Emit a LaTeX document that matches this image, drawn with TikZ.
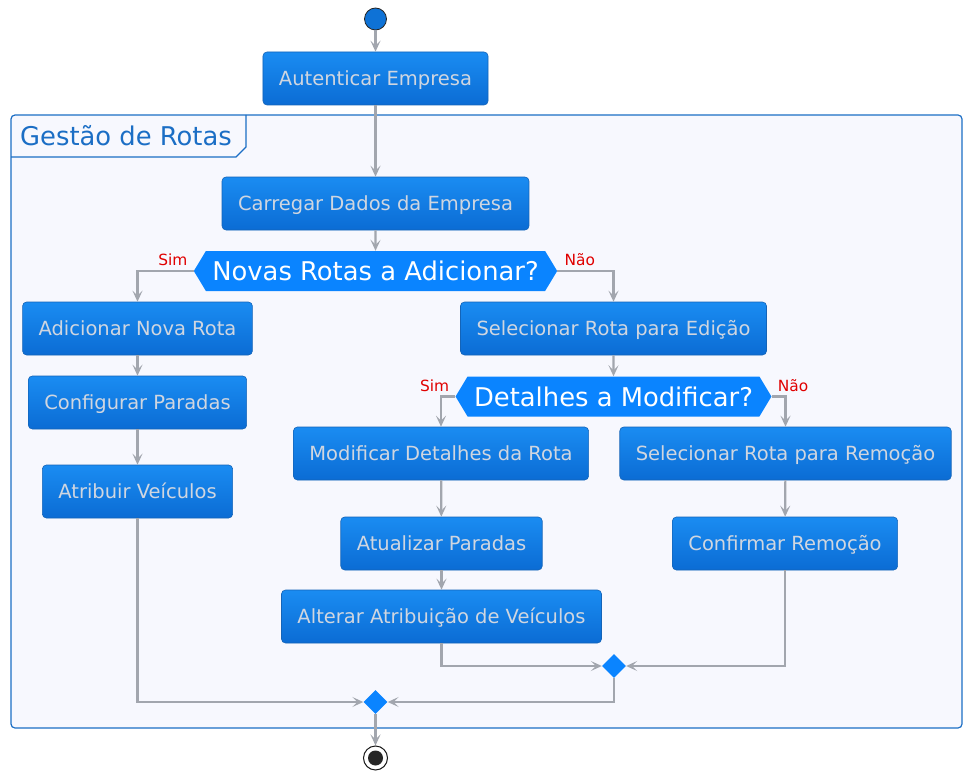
\documentclass[tikz,border=0pt]{standalone}
\usepackage{fontspec}
\setmainfont{DejaVu Sans}
\usepackage{xcolor}
\usepackage{tikz}
\usetikzlibrary{arrows.meta,shapes.geometric,shapes.symbols}
\definecolor{boxtop}{HTML}{1A8CF2}
\definecolor{boxbot}{HTML}{0B6CD4}
\definecolor{boxline}{HTML}{1464B8}
\definecolor{boxtext}{HTML}{D0D6E0}
\definecolor{decfill}{HTML}{0A84FF}
\definecolor{flowline}{HTML}{A2A6AE}
\definecolor{framecol}{HTML}{1B6EC5}
\definecolor{framefill}{HTML}{F7F8FE}
\definecolor{lblred}{HTML}{E00000}
\definecolor{startfill}{HTML}{0E72D6}
\tikzset{
  actbox/.style={rectangle,rounded corners=4pt,top color=boxtop,bottom color=boxbot,
    draw=boxline,line width=0.6pt,minimum height=53pt,inner xsep=16pt,
    text=boxtext,font=\fontsize{19.5}{23}\selectfont,text height=16pt,text depth=2pt},
  decision/.style={signal,signal to=west and east,signal pointer angle=118,fill=decfill,
    text=white,font=\fontsize{25.8}{30}\selectfont,inner xsep=6.5pt,inner ysep=7.5pt,
    text height=22pt,text depth=3pt,minimum height=40pt},
  mergept/.style={diamond,fill=decfill,minimum size=24pt,inner sep=0pt},
  lbl/.style={text=lblred,font=\fontsize{15.4}{18}\selectfont,inner sep=0pt},
  flow/.style={draw=flowline,line width=2.2pt,->},
}
\begin{document}
\begin{tikzpicture}[x=1pt,y=-1pt,>={Stealth[length=11pt,width=10pt,inset=5pt]}]
\useasboundingbox (0,0) rectangle (972,781);
% frame
\draw[framecol,fill=framefill,line width=1.2pt,rounded corners=4pt] (11,115) rectangle (962,728);
\draw[framecol,line width=1.2pt] (11,157) -- (236,157) -- (246,147) -- (246,115);
\node[anchor=base west,text=framecol,font=\fontsize{25.8}{30}\selectfont,inner sep=0pt] (title) at (20,146) {Gestão de Rotas};

% start / stop
\node[circle,fill=startfill,draw=black!85,line width=0.8pt,minimum size=22pt,inner sep=0pt] (start) at (375.5,19) {};
\node[circle,draw=black!90,fill=white,line width=1pt,minimum size=24pt,inner sep=0pt] (stop) at (375.5,758) {};
\fill[black!85] (stop.center) circle (7.5pt);

% actions
\node[actbox] (auth) at (375.5,78.5) {Autenticar Empresa};
\node[actbox] (load) at (375.5,203.5) {Carregar Dados da Empresa};
\node[decision] (d1) at (375.5,271) {Novas Rotas a Adicionar?};
\node[actbox] (add) at (137.5,328.5) {Adicionar Nova Rota};
\node[actbox] (stops) at (137.5,402.5) {Configurar Paradas};
\node[actbox] (veh) at (137.5,491.5) {Atribuir Veículos};
\node[actbox] (sel) at (613.5,328.5) {Selecionar Rota para Edição};
\node[decision] (d2) at (613.5,396.5) {Detalhes a Modificar?};
\node[actbox] (mod) at (441,453.5) {Modificar Detalhes da Rota};
\node[actbox] (upd) at (441.5,543.5) {Atualizar Paradas};
\node[actbox] (alt) at (441.5,616.5) {Alterar Atribuição de Veículos};
\node[actbox] (rem) at (785.5,453.5) {Selecionar Rota para Remoção};
\node[actbox] (conf) at (785,543.5) {Confirmar Remoção};
\node[mergept] (m2) at (614,666) {};
\node[mergept] (m1) at (375.5,702) {};

% labels
\node[lbl,anchor=south east] (s1) at ([xshift=-6pt,yshift=5pt]d1.west) {Sim};
\node[lbl,anchor=south west] (n1) at ([xshift=7pt,yshift=5pt]d1.east) {Não};
\node[lbl,anchor=south east] (s2) at ([xshift=-6pt,yshift=5pt]d2.west) {Sim};
\node[lbl,anchor=south west] (n2) at ([xshift=6pt,yshift=5pt]d2.east) {Não};

% connectors
\draw[flow] (start) -- (auth);
\draw[flow] (auth) -- (load);
\draw[flow] (load) -- (d1);
\draw[flow] (d1.west) -| (add.north);
\draw[flow] (d1.east) -| (sel.north);
\draw[flow] (add) -- (stops);
\draw[flow] (stops) -- (veh);
\draw[flow] (sel) -- (d2);
\draw[flow] (d2.west) -| (mod.north);
\draw[flow] (d2.east) -| (rem.north);
\draw[flow] (mod) -- (upd);
\draw[flow] (upd) -- (alt);
\draw[flow] (rem) -- (conf);
\draw[flow] (alt.south) |- (m2.west);
\draw[flow] (conf.south) |- (m2.east);
\draw[flow] (m2.south) |- (m1.east);
\draw[flow] (veh.south) |- (m1.west);
\draw[flow] (m1) -- (stop);
\end{tikzpicture}
\end{document}
